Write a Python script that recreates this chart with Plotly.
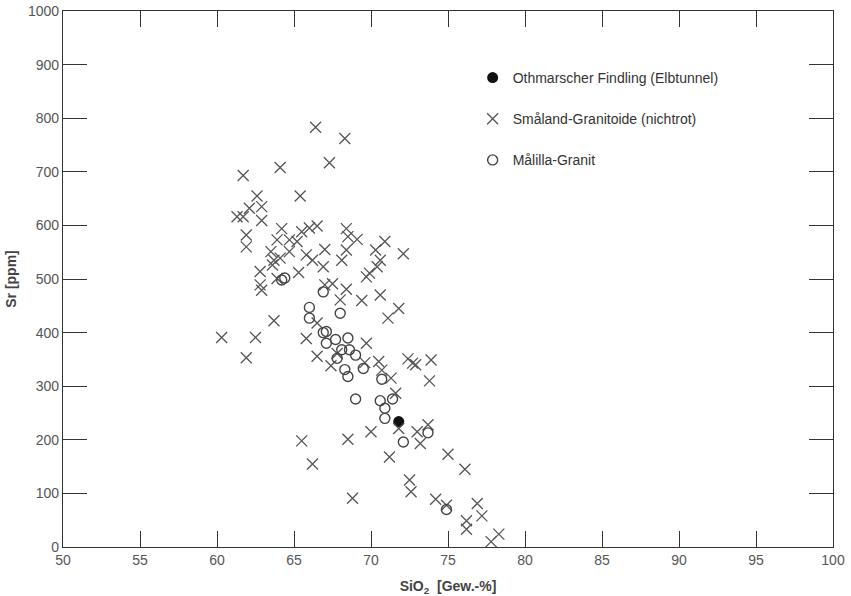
import plotly.graph_objects as go

# Småland-Granitoide (nichtrot)
smaland_sio2 = [66.4, 68.3, 67.3, 64.1, 61.7, 62.6, 65.4, 62.1, 62.9, 61.3, 61.7, 62.9, 61.9, 61.9,
                64.2, 63.9, 64.7, 65.2, 65.5, 66.0, 66.5, 67.0, 66.9, 63.5, 63.7, 64.7, 64.1, 63.6,
                65.8, 66.2, 62.8, 63.9, 65.3, 62.8, 62.9, 67.0, 67.5, 63.7, 60.3, 62.5, 65.8, 68.4,
                68.5, 69.1, 68.4, 70.3, 70.9, 72.1, 70.6, 70.4, 68.1, 69.7, 69.9, 68.4, 68.0, 69.4,
                70.6, 71.8, 71.1, 69.7, 61.9, 66.5, 66.5, 67.4, 67.8, 69.6, 70.5, 70.7, 71.3, 72.4,
                72.7, 72.9, 73.9, 73.8, 71.6, 71.8, 70.0, 68.5, 65.5, 71.2, 73.0, 73.2, 73.7, 75.0,
                76.1, 72.5, 72.6, 66.2, 68.8, 74.2, 74.9, 76.9, 77.2, 76.2, 76.2, 78.3, 77.8]
smaland_sr = [783, 762, 717, 708, 693, 655, 655, 632, 635, 616, 616, 609, 582, 560,
              594, 573, 573, 570, 588, 595, 599, 555, 523, 551, 535, 551, 539, 526,
              545, 535, 514, 501, 512, 489, 479, 489, 491, 422, 391, 391, 389, 594,
              579, 574, 554, 554, 570, 547, 535, 523, 535, 504, 511, 481, 461, 460,
              470, 445, 427, 380, 353, 418, 356, 338, 361, 344, 346, 330, 315, 351,
              343, 340, 349, 310, 287, 221, 215, 201, 198, 168, 215, 193, 228, 173,
              145, 125, 103, 155, 91, 89, 78, 81, 58, 49, 33, 24, 10]

# Målilla-Granit
malilla_sio2 = [64.2, 64.4, 66.9, 66.0, 68.0, 66.0, 66.9, 67.1, 67.1, 67.7, 68.5, 68.1, 68.6,
                69.0, 67.8, 68.3, 68.5, 69.5, 70.7, 69.0, 70.6, 71.4, 70.9, 70.9, 72.1, 73.7, 74.9]
malilla_sr = [498, 502, 476, 447, 436, 427, 400, 402, 380, 387, 390, 368, 368,
              358, 352, 331, 318, 333, 313, 276, 273, 276, 259, 240, 196, 213, 70]

# Othmarscher Findling (Elbtunnel)
findling_sio2 = [71.8]
findling_sr = [234]

x_ticks = [50, 55, 60, 65, 70, 75, 80, 85, 90, 95, 100]
y_ticks = [0, 100, 200, 300, 400, 500, 600, 700, 800, 900, 1000]

fig = go.Figure()
fig.add_trace(go.Scatter(
    x=findling_sio2, y=findling_sr, mode="markers",
    name="Othmarscher Findling (Elbtunnel)", legendgroup="a",
    marker=dict(symbol="circle", size=11, color="#111111"),
))
fig.add_trace(go.Scatter(
    x=smaland_sio2, y=smaland_sr, mode="markers",
    name="Småland-Granitoide (nichtrot)", legendgroup="b",
    marker=dict(symbol="x-thin-open", size=11, color="#555555",
                line=dict(width=1.3, color="#555555")),
))
fig.add_trace(go.Scatter(
    x=malilla_sio2, y=malilla_sr, mode="markers",
    name="Målilla-Granit", legendgroup="c",
    marker=dict(symbol="circle-open", size=10, color="#444444",
                line=dict(width=1.4, color="#444444")),
))

axis_common = dict(
    showline=True, linecolor="#333333", linewidth=1.2, mirror="ticks",
    ticks="inside", tickcolor="#333333", tickwidth=1.2,
    showgrid=False, zeroline=False, automargin=False,
    tickfont=dict(family="Liberation Sans, Arial, sans-serif", size=14, color="#555555"),
)

fig.update_layout(
    width=851, height=596,
    margin=dict(l=63, r=18, t=11, b=49),
    paper_bgcolor="white", plot_bgcolor="white",
    font=dict(family="Liberation Sans, Arial, sans-serif", color="#333333"),
    xaxis=dict(range=[50, 100], tickvals=x_ticks, ticklen=16,
               title=dict(text="<b>SiO<sub>2</sub>  [Gew.-%]</b>", font=dict(size=14, color="#444444"),
                          standoff=16),
               **axis_common),
    yaxis=dict(range=[0, 1000], tickvals=y_ticks, ticklen=24,
               title=dict(text="<b>Sr [ppm]</b>", font=dict(size=14, color="#444444"), standoff=8),
               **axis_common),
    legend=dict(x=0.532, y=0.905, xanchor="left", yanchor="top",
                font=dict(size=14, color="#333333"),
                traceorder="grouped", tracegroupgap=20,
                bgcolor="rgba(0,0,0,0)"),
    showlegend=True,
)

fig.write_html("out.html",
               config={"displayModeBar": False},
               post_script="document.body.style.margin='0';document.body.style.overflow='hidden';")
